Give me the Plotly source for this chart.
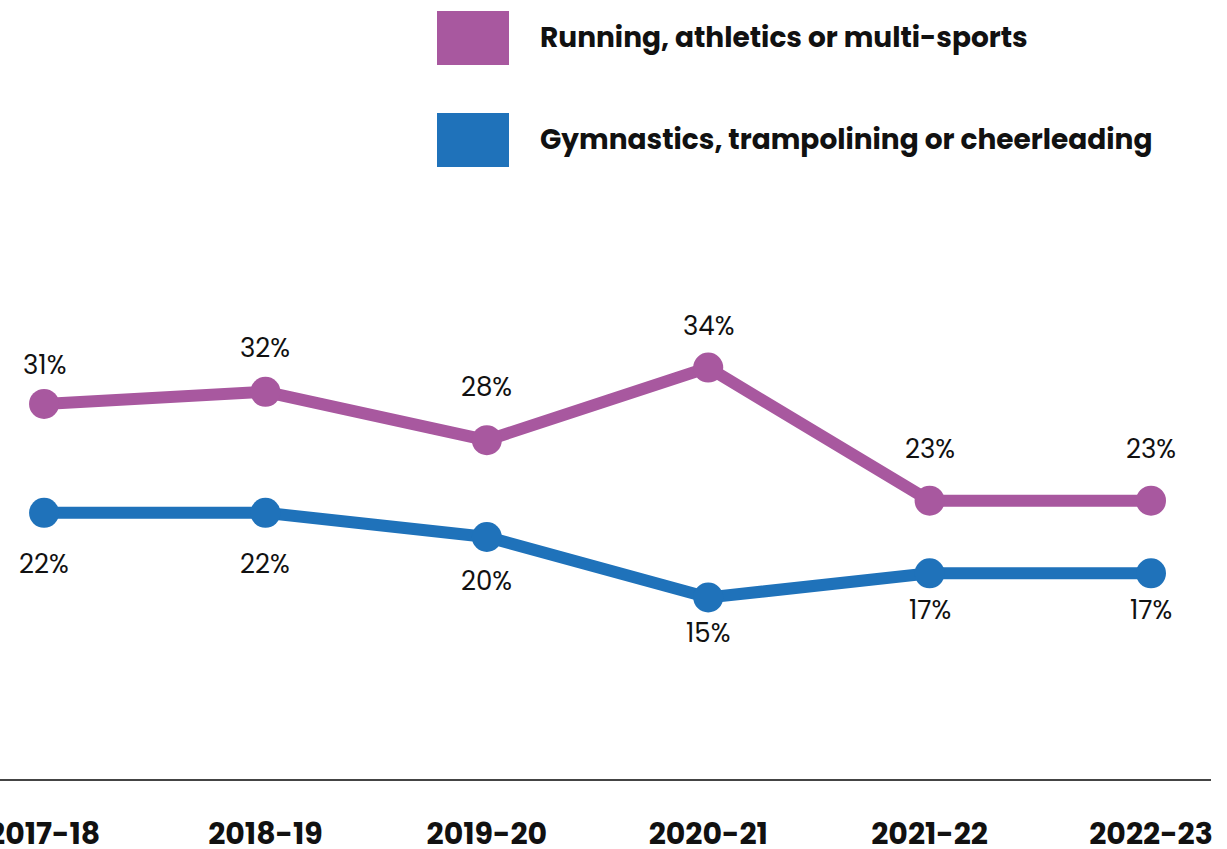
import plotly.graph_objects as go

years = ["2017-18", "2018-19", "2019-20", "2020-21", "2021-22", "2022-23"]
series_names = ["Running, athletics or multi-sports",
                "Gymnastics, trampolining or cheerleading"]
running = [31, 32, 28, 34, 23, 23]
gymnastics = [22, 22, 20, 15, 17, 17]

colors = ["#A8589F", "#1F72BA"]
# label offsets in pixels (style only)
run_shift = [39, 44, 53, 42, 52, 52]
gym_shift = [-51, -51, -44, -35, -37, -37]

FONT = "Poppins, DejaVu Sans, sans-serif"
W, H = 1227, 849
ML, MR, MT, MB = 0, 16, 174, 70
PW, PH = W - ML - MR, H - MT - MB

fig = go.Figure()
for name, vals, col in zip(series_names, [running, gymnastics], colors):
    fig.add_trace(go.Scatter(
        x=years, y=vals, mode="lines+markers", name=name,
        line=dict(color=col, width=12),
        marker=dict(color=col, size=30),
        showlegend=False, hoverinfo="skip"))

annotations = []
for vals, shifts in [(running, run_shift), (gymnastics, gym_shift)]:
    for x, v, s in zip(years, vals, shifts):
        annotations.append(dict(
            x=x, y=v, xref="x", yref="y", text=f"{v}%", showarrow=False,
            yshift=s, font=dict(family=FONT, size=26, color="#111111")))

# legend (manual)
shapes = []
leg_y = [38, 140]
for i, (name, col) in enumerate(zip(series_names, colors)):
    shapes.append(dict(type="rect", xref="paper", yref="paper",
                       x0=(437 - ML) / PW, x1=(509 - ML) / PW,
                       y0=(H - MB - (leg_y[i] + 27)) / PH,
                       y1=(H - MB - (leg_y[i] - 27)) / PH,
                       fillcolor=col, line=dict(width=0)))
    annotations.append(dict(
        x=(538 - ML) / PW, y=(H - MB - leg_y[i]) / PH,
        xref="paper", yref="paper", xanchor="left", yanchor="middle",
        text=f"<b>{name}</b>", showarrow=False,
        font=dict(family=FONT, size=28, color="#111111")))

fig.update_layout(
    template="none",
    width=W, height=H, autosize=False,
    margin=dict(l=ML, r=MR, t=MT, b=MB, autoexpand=False),
    paper_bgcolor="white", plot_bgcolor="white",
    shapes=shapes, annotations=annotations,
    xaxis=dict(type="category", range=[-0.199, 5.271], automargin=False,
               showline=True, linecolor="#444444", linewidth=1.5,
               showgrid=False, zeroline=False, ticks="",
               ticklabelstandoff=27,
               tickfont=dict(family=FONT, size=30, color="#111111"),
               tickvals=years, ticktext=[f"<b>{y}</b>" for y in years]),
    yaxis=dict(range=[0, 50], visible=False, showgrid=False, zeroline=False,
               automargin=False),
)

fig.write_html("out.html", config={"displayModeBar": False},
               post_script="document.body.style.margin='0';document.body.style.overflow='hidden';")
